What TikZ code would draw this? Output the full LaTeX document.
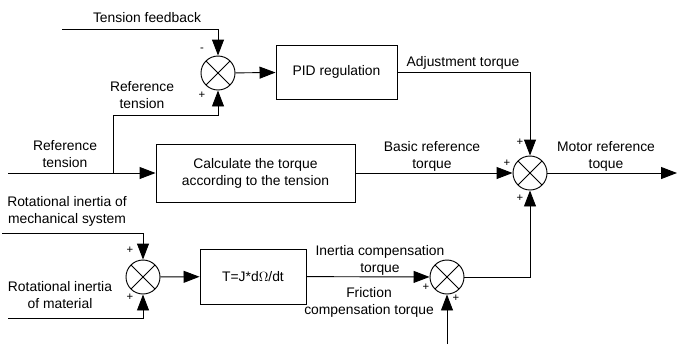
\documentclass[tikz,border=0pt]{standalone}
\usepackage{fontspec}
\setmainfont{Liberation Sans}
\usetikzlibrary{positioning,calc,arrows.meta}
\tikzset{
	sum/.style={circle,draw=black,line width=0.7pt,minimum size=25.5pt,inner sep=0pt,
		path picture={\draw[line width=0.7pt] (path picture bounding box.north west)--(path picture bounding box.south east)
			(path picture bounding box.north east)--(path picture bounding box.south west);}},
	blk/.style={draw=black,line width=0.7pt,inner sep=0pt,align=center},
	lbl/.style={align=center,inner sep=0pt},
	sgn/.style={font=\fontsize{8.5}{9}\selectfont,inner sep=0pt},
	conn/.style={draw=black,line width=0.7pt},
	arr/.style={conn,-{Triangle[length=12pt,width=9pt]}},
}

\begin{document}
\begin{tikzpicture}[x=0.75pt,y=-0.75pt,font=\fontsize{10.4}{12.75}\selectfont]
	\useasboundingbox (0,0) rectangle (678,344);
	% summing points and blocks
	\node[sum] (s1) at (218,73) {};
	\node[sum] (s2) at (530,173) {};
	\node[sum] (s3) at (447,277) {};
	\node[sum] (s4) at (143,277) {};
	\node[blk,minimum width=90.75pt,minimum height=40.5pt] (pid) at (336.5,72) {PID regulation};
	\node[blk,minimum width=149.25pt,minimum height=43.5pt] (calc) at (255.5,173) {Calculate the torque\\according to the tension};
	\node[blk,minimum width=79.5pt,minimum height=41.25pt] (tbox) at (253,276.5) {T=J*d$\Omega$/dt};
	% free ends
	\coordinate (fb) at (62,29);
	\coordinate (refin) at (8,173);
	\coordinate (br) at (113,173);
	\coordinate (rt) at (113,115);
	\coordinate (out) at (677,173);
	\coordinate (fric) at (447,344);
	\coordinate (mech) at (2,233);
	\coordinate (mat) at (8,318);
	% connectors
	\draw[arr] (fb) -| (s1);
	\draw[conn] (br) -- (rt);
	\draw[arr] (rt) -| (s1);
	\draw[arr] (s1) -- (pid);
	\draw[arr] (refin) -- (calc);
	\draw[arr] (pid) -| (s2);
	\draw[arr] (calc) -- (s2);
	\draw[arr] (s2) -- (out);
	\draw[arr] (s3) -| (s2);
	\draw[arr] (tbox) -- (s3);
	\draw[arr] (fric) -- (s3);
	\draw[arr] (s4) -- (tbox);
	\draw[arr] (mech) -| (s4);
	\draw[arr] (mat) -| (s4);
	% texts
	\node[lbl] (tfb) at (147,18) {Tension feedback};
	\node[lbl] (rt1) at (142,95.5) {Reference\\tension};
	\node[lbl] (rt2) at (65,154) {Reference\\tension};
	\node[lbl] (adj) at (463,63) {Adjustment torque};
	\node[lbl] (bas) at (432,156.5) {Basic reference\\torque};
	\node[lbl] (mot) at (606,156.5) {Motor reference\\toque};
	\node[lbl] (rim) at (67,211) {Rotational inertia of\\mechanical system};
	\node[lbl] (rma) at (60,295) {Rotational inertia\\of material};
	\node[lbl] (ict) at (380,260) {Inertia compensation\\torque};
	\node[lbl] (fct) at (369,302) {Friction\\compensation torque};
	% signs
	\node[sgn] (m1) at (202,50) {-};
	\node[sgn] (p1) at (202,95) {+};
	\node[sgn] (p2) at (520,142) {+};
	\node[sgn] (p3) at (507,163) {+};
	\node[sgn] (p4) at (520,198) {+};
	\node[sgn] (p5) at (426,287) {+};
	\node[sgn] (p6) at (456,298) {+};
	\node[sgn] (p7) at (130,250) {+};
	\node[sgn] (p8) at (130,297) {+};
\end{tikzpicture}
\end{document}
